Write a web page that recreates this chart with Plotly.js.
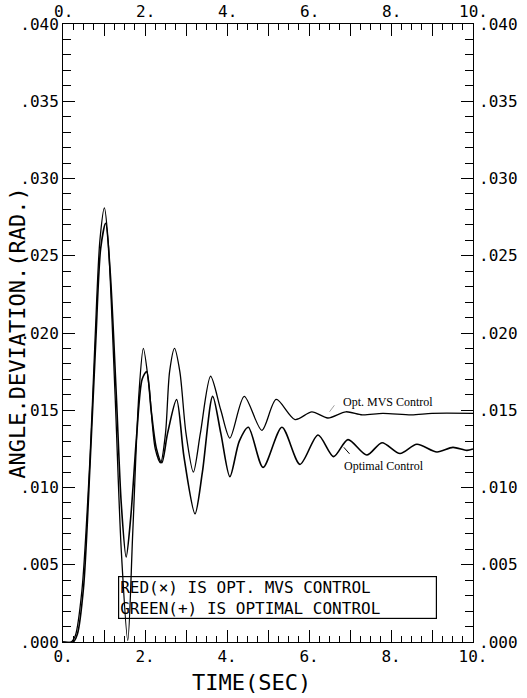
<!DOCTYPE html>
<html>
<head>
<meta charset="utf-8">
<script src="https://cdn.plot.ly/plotly-3.0.1.min.js"></script>
<style>html,body{margin:0;padding:0;background:#fff;}#chart{width:527px;height:698px;}</style>
</head>
<body>
<div id="chart"></div>
<script>
// Time (sec) and angle deviation (rad)
var mvsTime = [0, 0.2, 0.3, 0.46, 0.66, 0.78, 0.9, 1.01, 1.1, 1.27, 1.42, 1.58, 1.7, 1.85, 1.96, 2.1, 2.25, 2.38, 2.5, 2.6, 2.72, 2.85, 3.0, 3.18, 3.35, 3.6, 3.85, 4.07, 4.42, 4.85, 5.2, 5.66, 6.07, 6.46, 6.9, 7.3, 7.8, 8.5, 9.0, 10];
var mvsAngle = [0, 0, 0.0004, 0.0033, 0.012, 0.0195, 0.026, 0.0281, 0.026, 0.016, 0.006, 0.0001, 0.007, 0.016, 0.019, 0.0165, 0.0125, 0.0116, 0.0135, 0.0175, 0.019, 0.0175, 0.0135, 0.0110, 0.0135, 0.0172, 0.0150, 0.0132, 0.0159, 0.0137, 0.0157, 0.0144, 0.0149, 0.0145, 0.0149, 0.0147, 0.0148, 0.0147, 0.0148, 0.0148];

var optTime = [0, 0.25, 0.35, 0.5, 0.66, 0.8, 0.92, 1.04, 1.15, 1.3, 1.42, 1.54, 1.65, 1.8, 1.93, 2.04, 2.15, 2.28, 2.41, 2.55, 2.77, 2.95, 3.22, 3.4, 3.65, 3.85, 4.07, 4.3, 4.52, 4.88, 5.34, 5.78, 6.22, 6.6, 6.95, 7.41, 7.78, 8.22, 8.63, 9.12, 9.51, 9.85, 10];
var optAngle = [0, 0, 0.0005, 0.0035, 0.0115, 0.0195, 0.0255, 0.0271, 0.024, 0.016, 0.009, 0.0055, 0.008, 0.0135, 0.017, 0.0175, 0.015, 0.0125, 0.0116, 0.0135, 0.0157, 0.012, 0.0083, 0.011, 0.0159, 0.0135, 0.0107, 0.013, 0.0139, 0.0113, 0.0139, 0.0115, 0.0134, 0.0120, 0.0131, 0.0121, 0.0129, 0.0122, 0.0128, 0.0123, 0.0126, 0.0124, 0.0125];

var xTickVals = [0, 1, 2, 3, 4, 5, 6, 7, 8, 9, 10];
var xTickText = ["0.", "", "2.", "", "4.", "", "6.", "", "8.", "", "10."];
var yTickVals = [0, 0.005, 0.010, 0.015, 0.020, 0.025, 0.030, 0.035, 0.040];
var yTickText = [".000", ".005", ".010", ".015", ".020", ".025", ".030", ".035", ".040"];

var xTitle = "TIME(SEC)";
var yTitle = "ANGLE.DEVIATION.(RAD.)";
var legendLines = ["RED(×) IS OPT. MVS CONTROL", "GREEN(+) IS OPTIMAL CONTROL"];
var curveLabels = ["Opt. MVS Control", "Optimal Control"];

var mono = "DejaVu Sans Mono, Liberation Mono, monospace";
var tickFont = {family: mono, size: 16, color: "#000"};
var serif = "Liberation Serif, Times New Roman, serif";

var traces = [
  {x: mvsTime, y: mvsAngle, type: "scatter", mode: "lines", name: "Opt. MVS Control",
   line: {color: "#000", width: 1.3, shape: "spline", smoothing: 0.8}},
  {x: optTime, y: optAngle, type: "scatter", mode: "lines", name: "Optimal Control",
   line: {color: "#000", width: 1.6, shape: "spline", smoothing: 0.8}}
];

var annotations = [
  {xref: "paper", yref: "paper", x: -0.113, y: 0.5, xanchor: "center", yanchor: "middle",
   text: yTitle, textangle: -90, showarrow: false, font: {family: mono, size: 22, color: "#000"}},
  {xref: "paper", yref: "paper", x: 0.46, y: -0.066, xanchor: "center", yanchor: "middle",
   text: xTitle, showarrow: false, font: {family: mono, size: 22, color: "#000"}},
  {xref: "paper", yref: "paper", x: 0.523, y: 0.072, xanchor: "center", yanchor: "middle",
   width: 315, height: 39, align: "left", valign: "middle", borderpad: 1,
   bordercolor: "#000", borderwidth: 1.2,
   text: legendLines.join("<br>"), showarrow: false, font: {family: mono, size: 16, color: "#000"}},
  {xref: "x", yref: "y", x: 7.93, y: 0.01553, text: curveLabels[0], showarrow: false,
   font: {family: serif, size: 12, color: "#000"}},
  {xref: "x", yref: "y", x: 7.83, y: 0.0114, text: curveLabels[1], showarrow: false,
   font: {family: serif, size: 12, color: "#000"}},
  {xref: "x", yref: "y", x: 6.5, y: 0.0149, ax: 6, ay: -8, text: "", showarrow: true,
   arrowhead: 0, arrowwidth: 0.8, arrowcolor: "#888"},
  {xref: "x", yref: "y", x: 6.85, y: 0.0126, ax: 7, ay: 8, text: "", showarrow: true,
   arrowhead: 0, arrowwidth: 1, arrowcolor: "#000"}
];
// mirrored tick labels on the top and right edges
xTickVals.forEach(function (v, i) {
  if (xTickText[i]) {
    annotations.push({xref: "x", yref: "paper", x: v, y: 1, xanchor: "center", yanchor: "bottom",
      yshift: 1, text: xTickText[i], showarrow: false, font: tickFont});
  }
});
yTickVals.forEach(function (v, i) {
  annotations.push({xref: "paper", yref: "y", x: 1, y: v, xanchor: "left", yanchor: "middle",
    xshift: 4, text: yTickText[i], showarrow: false, font: tickFont});
});

var layout = {
  width: 527, height: 698,
  margin: {l: 63, r: 54, t: 24, b: 56},
  showlegend: false,
  xaxis: {
    range: [0, 10], showgrid: false, zerolinecolor: "#000",
    showline: true, linecolor: "#000", mirror: "allticks",
    tickmode: "array", tickvals: xTickVals, ticktext: xTickText,
    ticks: "inside", ticklen: 12, tickcolor: "#000",
    minor: {dtick: 0.25, ticks: "inside", ticklen: 6, tickcolor: "#000"},
    tickfont: tickFont
  },
  yaxis: {
    range: [0, 0.04], showgrid: false, zerolinecolor: "#000",
    showline: true, linecolor: "#000", mirror: "allticks",
    tickmode: "array", tickvals: yTickVals, ticktext: yTickText,
    ticks: "inside", ticklen: 12, tickcolor: "#000",
    minor: {dtick: 0.001, ticks: "inside", ticklen: 8, tickcolor: "#000"},
    tickfont: tickFont
  },
  annotations: annotations
};

Plotly.newPlot("chart", traces, layout, {displayModeBar: false});
</script>
</body>
</html>
